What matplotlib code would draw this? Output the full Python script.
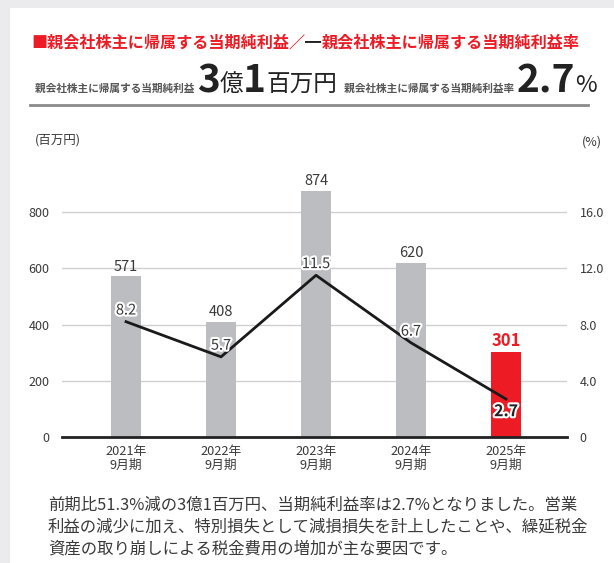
import numpy as np
import matplotlib.pyplot as plt
import matplotlib.patheffects as pe
from matplotlib.patches import Rectangle

plt.rcParams['font.family'] = ['Noto Sans CJK JP', 'DejaVu Sans']

years = ['2021年\n9月期', '2022年\n9月期', '2023年\n9月期', '2024年\n9月期', '2025年\n9月期']
profit = [571, 408, 874, 620, 301]        # 百万円
rate = [8.2, 5.7, 11.5, 6.7, 2.7]         # %
left_ticks = [0, 200, 400, 600, 800]
right_ticks = [0, 4.0, 8.0, 12.0, 16.0]

GREY_BAR = '#bcbdc0'
RED = '#ed1c24'
TXT = '#3a3a3a'

W, H = 614, 563
fig = plt.figure(figsize=(W / 100, H / 100), dpi=100, facecolor='#ebebed')
fig.patches.append(Rectangle((10 / W, 0), 1, (H - 8) / H, transform=fig.transFigure,
                             facecolor='white', edgecolor='none', zorder=-5))

def px(x, y):
    return x / W, 1 - y / H

renderer = fig.canvas.get_renderer()

def text_row(parts, x, y):
    # parts: (text, size, color, weight)
    fx, fy = px(x, y)
    for s, size, color, weight in parts:
        t = fig.text(fx, fy, s, fontsize=size, color=color, fontweight=weight,
                     va='baseline', ha='left')
        bb = t.get_window_extent(renderer)
        fx += bb.width / W

# header
text_row([('■親会社株主に帰属する当期純利益／', 11.6, RED, 'bold'),
          ('━', 11.6, '#222222', 'bold'),
          ('親会社株主に帰属する当期純利益率', 11.6, RED, 'bold')], 31, 47)

SMALL = '#555555'
text_row([('親会社株主に帰属する当期純利益 ', 7.7, SMALL, 'bold'),
          ('3', 28, '#222222', 'bold'),
          ('億', 17, '#222222', 'normal'),
          ('1', 28, '#222222', 'bold'),
          ('百万円', 17, '#222222', 'normal'),
          ('   親会社株主に帰属する当期純利益率 ', 7.7, SMALL, 'bold'),
          ('2.7', 28, '#222222', 'bold'),
          ('%', 17, '#222222', 'normal')], 35, 92)

fig.add_artist(plt.Line2D([30 / W, 588 / W], [1 - 105 / H] * 2, color='#8a8a8a', lw=2,
                          transform=fig.transFigure))

# chart
ax = fig.add_axes([62 / W, 126 / H, (567 - 62) / W, 281.25 / H])
ax.set_zorder(2)
ax.patch.set_visible(False)
x = np.arange(len(years))
colors = [GREY_BAR] * (len(years) - 1) + [RED]
ax.bar(x, profit, width=0.32, color=colors, zorder=2)
ax.set_xlim(-0.674, 4.642)
ax.set_ylim(0, 1000)
ax.set_yticks(left_ticks)
ax.set_yticklabels([str(v) for v in left_ticks])
ax.tick_params(axis='y', length=0, pad=9, labelsize=9, labelcolor=TXT)
ax.tick_params(axis='x', length=0, pad=6, labelsize=9.2, labelcolor=TXT)
ax.set_xticks(x)
ax.set_xticklabels(years, linespacing=1.1)
for v in left_ticks[1:]:
    ax.axhline(v, color='#d0d0d0', lw=1, zorder=1)
for s in ['top', 'left', 'right']:
    ax.spines[s].set_visible(False)
ax.spines['bottom'].set_color('#222222')
ax.spines['bottom'].set_linewidth(2)
ax.spines['bottom'].set_zorder(5)

for i, v in enumerate(profit):
    last = i == len(profit) - 1
    ax.annotate(str(v), (x[i], v), xytext=(0, 2), textcoords='offset points',
                ha='center', va='bottom',
                fontsize=12 if last else 10.5,
                color=RED if last else TXT,
                fontweight='bold' if last else 'normal')

ax2 = ax.twinx()
ax2.set_zorder(3)
ax2.patch.set_visible(False)
ax2.set_ylim(0, 20)
ax2.plot(x, rate, color='#1a1a1a', lw=2, zorder=3)
ax2.set_yticks(right_ticks)
ax2.set_yticklabels(['0'] + [f'{v:.1f}' for v in right_ticks[1:]])
ax2.tick_params(axis='y', length=0, pad=9, labelsize=9, labelcolor=TXT)
for s in ['top', 'left', 'right', 'bottom']:
    ax2.spines[s].set_visible(False)

stroke = [pe.withStroke(linewidth=3, foreground='white')]
for i, v in enumerate(rate):
    last = i == len(rate) - 1
    ax2.annotate(f'{v:.1f}', (x[i], v), xytext=(0, -3 if last else 3),
                 textcoords='offset points', ha='center',
                 va='top' if last else 'bottom',
                 fontsize=11.5 if last else 10.5, color='#222222' if last else TXT,
                 fontweight='bold' if last else 'normal', path_effects=stroke,
                 zorder=4)

fig.text(*px(35, 140), '(百万円)', fontsize=9, color=TXT, va='center')
fig.text(*px(582, 142), '(%)', fontsize=9, color=TXT, va='center')

para = ['前期比51.3%減の3億1百万円、当期純利益率は2.7%となりました。営業',
        '利益の減少に加え、特別損失として減損損失を計上したことや、繰延税金',
        '資産の取り崩しによる税金費用の増加が主な要因です。']
for k, line in enumerate(para):
    fig.text(*px(48, 505 + 22 * k), line, fontsize=11.8, color=TXT, va='center')

fig.savefig('out.png', dpi=100, facecolor=fig.get_facecolor())
